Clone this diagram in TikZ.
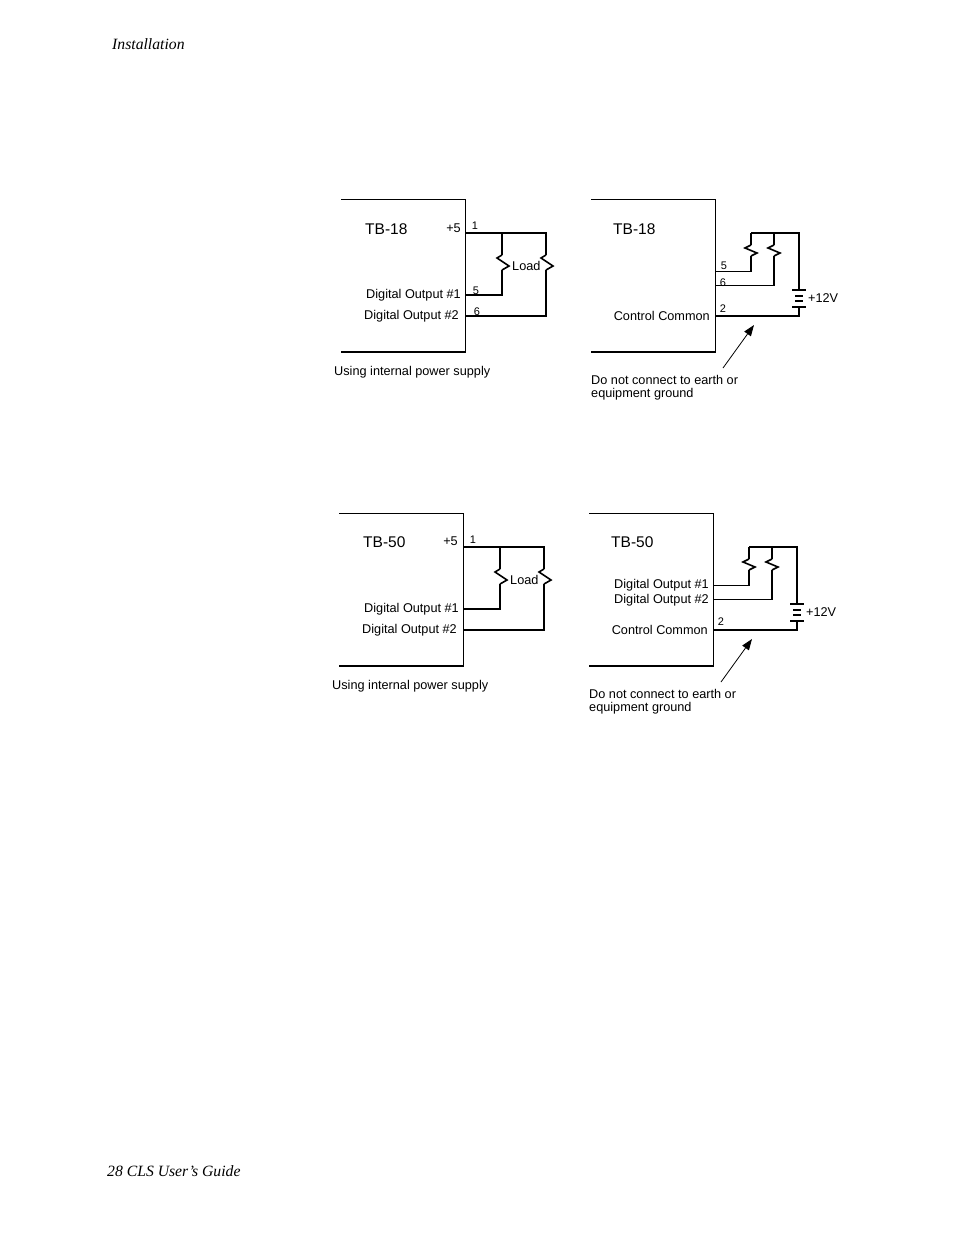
\documentclass[tikz,border=0pt]{standalone}
\usepackage{fontspec}
\setmainfont{Liberation Sans}
\newfontfamily\pagefont{Liberation Serif}
\usetikzlibrary{arrows.meta}
\tikzset{
  wire/.style={line width=1.6pt},
  boxline/.style={line width=1.7pt},
  lbl/.style={inner sep=0pt,font=\fontsize{12.7}{14}\selectfont},
  pinlbl/.style={inner sep=0pt,font=\fontsize{11}{13}\selectfont},
  tblbl/.style={inner sep=0pt,anchor=west,font=\fontsize{15.5}{18}\selectfont},
  pagelbl/.style={inner sep=0pt,anchor=west,font=\pagefont\itshape\fontsize{15.7}{18}\selectfont},
  bigzig/.pic={\draw[wire] (0,-11) -- (-5,-8) -- (7,0) -- (0,4);},
  smallzig/.pic={\draw[wire] (0,-5) -- (-6,-2) -- (6,3) -- (0,6);},
  cell/.pic={
    \draw[wire] (-7,0) -- (7,0);
    \draw[wire] (-4,6) -- (4,6);
    \draw[wire] (-4,11) -- (4,11);
    \draw[wire] (-7,17) -- (7,17);
  }
}
\begin{document}
\begin{tikzpicture}[x=1pt,y=-1pt]
\useasboundingbox (0,0) rectangle (954,1235);
\node[pagelbl] (head) at (112,44) {Installation};
\node[pagelbl] (foot) at (107,1171) {28 CLS User’s Guide};

% internal supply, TB-18
\begin{scope}
\coordinate (a1) at (341,199.5);
\coordinate (a2) at (465.5,199.5);
\coordinate (a3) at (465.5,352);
\coordinate (a4) at (341,352);
\draw[boxline] (a1) -- (a2) -- (a3) -- (a4);
\coordinate (ap1) at (465.5,233);
\coordinate (ap5) at (465.5,295);
\coordinate (ap6) at (465.5,316);
\coordinate (aj) at (502,233);
\coordinate (ac) at (546,233);
\coordinate (ar1) at (502,266);
\coordinate (ar2) at (546,266);
\draw[wire] (ap1) -- (ac) -- (ar2 |- 0,255);
\draw[wire] (aj) -- (ar1 |- 0,255);
\draw[wire] (ap5) -| (ar1 |- 0,270);
\draw[wire] (ap6) -| (ar2 |- 0,270);
\pic at (ar1) {bigzig};
\pic at (ar2) {bigzig};
\node[tblbl] (atb) at (365,229) {TB-18};
\node[lbl,anchor=east] (av) at (461,228) {+5};
\node[lbl,anchor=east] (ad1) at (461,295) {Digital Output \#1};
\node[lbl,anchor=east] (ad2) at (459,316) {Digital Output \#2};
\node[pinlbl] (an1) at (475,226) {1};
\node[pinlbl] (an5) at (476,291) {5};
\node[pinlbl] (an6) at (477,312) {6};
\node[lbl,anchor=west] (aload) at (512,266) {Load};
\node[lbl,anchor=west] (anote) at (334,372) {Using internal power supply};
\end{scope}

% external supply, TB-18
\begin{scope}
\coordinate (b1) at (591,199.5);
\coordinate (b2) at (715.5,199.5);
\coordinate (b3) at (715.5,352);
\coordinate (b4) at (591,352);
\draw[boxline] (b1) -- (b2) -- (b3) -- (b4);
\coordinate (bp5) at (715.5,271.5);
\coordinate (bp6) at (715.5,285.5);
\coordinate (bp2) at (715.5,316);
\coordinate (bj) at (751,233);
\coordinate (bc) at (799,233);
\coordinate (br1) at (751,250);
\coordinate (br2) at (774,250);
\coordinate (bb) at (799,290);
\draw[wire] (bj) -- (bc) -- (bb);
\draw[wire] (bj) -- (br1 |- 0,245);
\draw[wire] (br2 |- bj) -- (br2 |- 0,245);
\draw[wire] (bp5) -| (br1 |- 0,256);
\draw[wire] (bp6) -| (br2 |- 0,256);
\draw[wire] (bp2) -| (bb |- 0,307);
\pic at (br1) {smallzig};
\pic at (br2) {smallzig};
\pic at (bb) {cell};
\node[tblbl] (btb) at (613,229) {TB-18};
\node[lbl,anchor=east] (bcc) at (710,316) {Control Common};
\node[pinlbl] (bn5) at (724,266) {5};
\node[pinlbl] (bn6) at (723,283) {6};
\node[pinlbl] (bn2) at (723,309) {2};
\node[lbl,anchor=west] (bv) at (808,298) {+12V};
\node[lbl,anchor=west] (bt1) at (591,380) {Do not connect to earth or};
\node[lbl,anchor=west] (bt2) at (591,394) {equipment ground};
\coordinate (bf) at (723,368);
\coordinate (bt) at (754,325);
\draw[-{Triangle[length=11pt,width=8pt]},line width=0.8pt] (bf) -- (bt);
\end{scope}

% internal supply, TB-50
\begin{scope}[xshift=-2pt,yshift=-314pt]
\coordinate (c1) at (341,199.5);
\coordinate (c2) at (465.5,199.5);
\coordinate (c3) at (465.5,352);
\coordinate (c4) at (341,352);
\draw[boxline] (c1) -- (c2) -- (c3) -- (c4);
\coordinate (cp1) at (465.5,233);
\coordinate (cp5) at (465.5,295);
\coordinate (cp6) at (465.5,316);
\coordinate (cj) at (502,233);
\coordinate (cc) at (546,233);
\coordinate (cr1) at (502,266);
\coordinate (cr2) at (546,266);
\draw[wire] (cp1) -- (cc) -- (cr2 |- 0,255);
\draw[wire] (cj) -- (cr1 |- 0,255);
\draw[wire] (cp5) -| (cr1 |- 0,270);
\draw[wire] (cp6) -| (cr2 |- 0,270);
\pic at (cr1) {bigzig};
\pic at (cr2) {bigzig};
\node[tblbl] (ctb) at (365,228) {TB-50};
\node[lbl,anchor=east] (cv) at (460,227) {+5};
\node[lbl,anchor=east] (cd1) at (461,295) {Digital Output \#1};
\node[lbl,anchor=east] (cd2) at (459,316) {Digital Output \#2};
\node[pinlbl] (cn1) at (475,226) {1};
\node[lbl,anchor=west] (cload) at (512,266) {Load};
\node[lbl,anchor=west] (cnote) at (334,372) {Using internal power supply};
\end{scope}

% external supply, TB-50
\begin{scope}[xshift=-2pt,yshift=-314pt]
\coordinate (d1) at (591,199.5);
\coordinate (d2) at (715.5,199.5);
\coordinate (d3) at (715.5,352);
\coordinate (d4) at (591,352);
\draw[boxline] (d1) -- (d2) -- (d3) -- (d4);
\coordinate (dp5) at (715.5,271.5);
\coordinate (dp6) at (715.5,285.5);
\coordinate (dp2) at (715.5,316);
\coordinate (dj) at (751,233);
\coordinate (dc) at (799,233);
\coordinate (dr1) at (751,250);
\coordinate (dr2) at (774,250);
\coordinate (db) at (799,290);
\draw[wire] (dj) -- (dc) -- (db);
\draw[wire] (dj) -- (dr1 |- 0,245);
\draw[wire] (dr2 |- dj) -- (dr2 |- 0,245);
\draw[wire] (dp5) -| (dr1 |- 0,256);
\draw[wire] (dp6) -| (dr2 |- 0,256);
\draw[wire] (dp2) -| (db |- 0,307);
\pic at (dr1) {smallzig};
\pic at (dr2) {smallzig};
\pic at (db) {cell};
\node[tblbl] (dtb) at (613,228) {TB-50};
\node[lbl,anchor=east] (dd1) at (711,271.5) {Digital Output \#1};
\node[lbl,anchor=east] (dd2) at (711,286.5) {Digital Output \#2};
\node[lbl,anchor=east] (dcc) at (710,316) {Control Common};
\node[pinlbl] (dn2) at (723,308) {2};
\node[lbl,anchor=west] (dv) at (808,298) {+12V};
\node[lbl,anchor=west] (dt1) at (591,380) {Do not connect to earth or};
\node[lbl,anchor=west] (dt2) at (591,394) {equipment ground};
\coordinate (df) at (723,368);
\coordinate (dt) at (754,325);
\draw[-{Triangle[length=11pt,width=8pt]},line width=0.8pt] (df) -- (dt);
\end{scope}
\end{tikzpicture}
\end{document}
